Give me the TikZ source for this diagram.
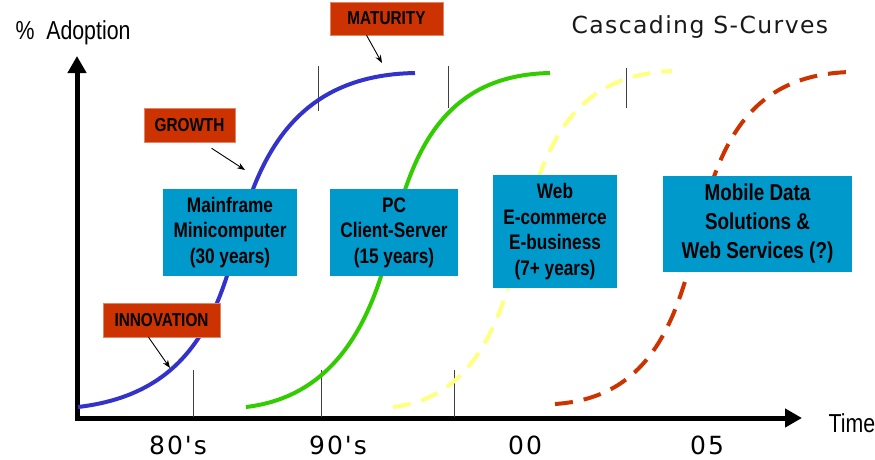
\documentclass[tikz,border=0pt]{standalone}
\usepackage{fontspec}
\setmainfont{Liberation Sans}
\newfontfamily\narrowfont[FakeStretch=0.82]{Liberation Sans}
\newfontfamily\widefont[LetterSpace=8]{DejaVu Sans}
\newfontfamily\titlefont[LetterSpace=6]{DejaVu Sans}
\usetikzlibrary{arrows.meta}
\definecolor{curveblue}{HTML}{3333CC}
\definecolor{curvegreen}{HTML}{33CC00}
\definecolor{curveyellow}{HTML}{FFFF80}
\definecolor{curvered}{HTML}{CC3300}
\definecolor{boxblue}{HTML}{0099CC}

\begin{document}
\begin{tikzpicture}[x=1pt,y=-1pt,
  era/.style={fill=boxblue,inner sep=0pt,align=center,
    font=\narrowfont\bfseries\fontsize{21}{25.5}\selectfont},
  phase/.style={fill=curvered,draw=curvered!60,inner sep=0pt,
    font=\narrowfont\bfseries\fontsize{18.7}{21}\selectfont},
  callout/.style={-{Stealth[length=8pt,width=6pt]},line width=0.9pt},
  tick/.style={line width=1pt,black!75},
  scurve/.style={line width=4pt},
  dashcurve/.style={scurve,dash pattern=on 18pt off 11pt}]
\useasboundingbox (0,0) rectangle (875,459);

% axes
\coordinate (ytip) at (77,56);
\coordinate (xtip) at (802,418);
\draw[line width=5pt,{Triangle[length=17pt,width=18pt]}-{Triangle[length=17pt,width=18pt]}]
  (ytip) |- (xtip);

\node[anchor=base west,font=\narrowfont\fontsize{26}{30}\selectfont] (ylab) at (12,39) {\%\ \ Adoption};
\node[anchor=base west,font=\narrowfont\fontsize{26}{30}\selectfont] (xlab) at (825,432) {Time};
\node[anchor=base west,font=\titlefont\fontsize{23.5}{28}\selectfont,text=black!90] (title) at (568,33) {Cascading S-Curves};

% decades
\node[anchor=base,font=\widefont\fontsize{25}{30}\selectfont] (d80) at (178,454) {80's};
\node[anchor=base,font=\widefont\fontsize{25}{30}\selectfont] (d90) at (338,454) {90's};
\node[anchor=base,font=\widefont\fontsize{25}{30}\selectfont] (d00) at (525,454) {00};
\node[anchor=base,font=\widefont\fontsize{25}{30}\selectfont] (d05) at (707,454) {05};

% ticks
\draw[tick] (193,370) -- (193,417);
\draw[tick] (321,370) -- (321,417);
\draw[tick] (454,370) -- (454,417);
\draw[tick] (318,66) -- (318,111);
\draw[tick] (448,66) -- (448,108);
\draw[tick] (626,68) -- (626,108);

% s-curves
\draw[scurve,curveblue] (78,407) .. controls (180,395) and (215,330) .. (237,240)
  .. controls (260,150) and (300,75) .. (415,73);
\draw[scurve,curvegreen] (246,407) .. controls (330,397) and (370,330) .. (391,240)
  .. controls (412,150) and (445,75) .. (550,73);
\draw[dashcurve,curveyellow] (393,407) .. controls (470,398) and (500,330) .. (521,240)
  .. controls (542,150) and (570,75) .. (672,71);
\draw[dashcurve,curvered] (555,404) .. controls (645,398) and (675,330) .. (696,240)
  .. controls (717,150) and (745,75) .. (850,72);

% technology boxes
\node[era,minimum width=134pt,minimum height=87pt] (mainframe) at (230,232.5) {Mainframe\\Minicomputer\\(30 years)};
\node[era,minimum width=128pt,minimum height=87pt] (pc) at (394,232.5) {PC\\Client-Server\\(15 years)};
\node[era,minimum width=124pt,minimum height=113pt] (web) at (555,231.5) {Web\\E-commerce\\E-business\\(7+ years)};
\node[era,minimum width=189pt,minimum height=96pt,
  font=\narrowfont\bfseries\fontsize{23}{29}\selectfont] (mobile) at (757.5,224) {Mobile Data\\Solutions \&\\Web Services (?)};

% phases
\node[phase,minimum width=113pt,minimum height=33pt] (maturity) at (386.5,18.5) {MATURITY};
\node[phase,minimum width=91pt,minimum height=34pt] (growth) at (189.5,125) {GROWTH};
\node[phase,minimum width=117pt,minimum height=34pt] (innovation) at (161.5,320) {INNOVATION};

\coordinate (matTip) at (382,63);
\coordinate (growTip) at (245,170);
\coordinate (innoTip) at (170,368);
\draw[callout] ([xshift=-20pt]maturity.south) -- (matTip);
\draw[callout] ([xshift=22pt,yshift=-6pt]growth.south) -- (growTip);
\draw[callout] ([xshift=-13pt]innovation.south) -- (innoTip);
\end{tikzpicture}
\end{document}
